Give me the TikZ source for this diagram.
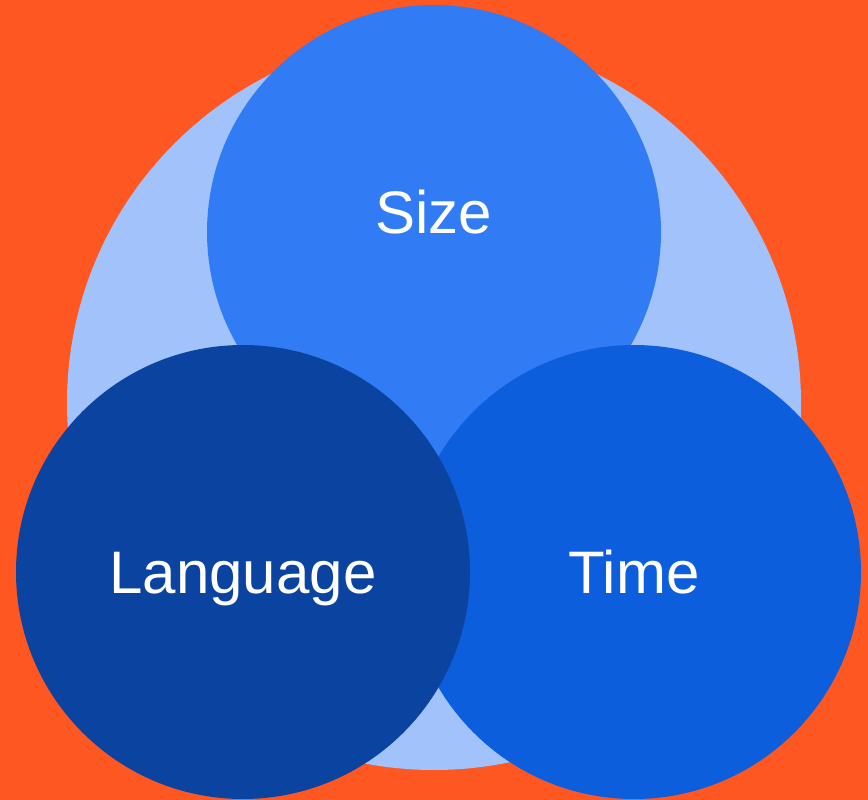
\documentclass[tikz,border=0pt]{standalone}
\usepackage{fontspec}
\setmainfont{Liberation Sans}
\definecolor{bgorange}{HTML}{FF5722}
\definecolor{outerblue}{HTML}{A1C2FA}
\definecolor{sizeblue}{HTML}{317BF4}
\definecolor{timeblue}{HTML}{0D5EDD}
\definecolor{langblue}{HTML}{0A44A0}
\begin{document}
\begin{tikzpicture}[x=1pt,y=-1pt,
  disc/.style={circle,minimum size=454pt,inner sep=0pt},
  label/.style={text=white,anchor=base,font=\fontsize{60}{62}\selectfont}]
  % canvas
  \fill[bgorange] (0,0) rectangle (868,800);
  \useasboundingbox (0,0) rectangle (868,800);
  % enclosing disc
  \node[circle,minimum size=734pt,inner sep=0pt,fill=outerblue] (outer) at (434,403) {};
  % three overlapping discs
  \node[disc,fill=sizeblue] (size) at (434,232) {};
  \node[disc,fill=timeblue] (time) at (634,572) {};
  \node[disc,fill=langblue] (lang) at (243,572) {};
  % labels
  \node[label] (sizet) at (434,233) {Size};
  \node[label] (timet) at (634,593) {Time};
  \node[label] (langt) at (243,593) {Language};
\end{tikzpicture}
\end{document}
